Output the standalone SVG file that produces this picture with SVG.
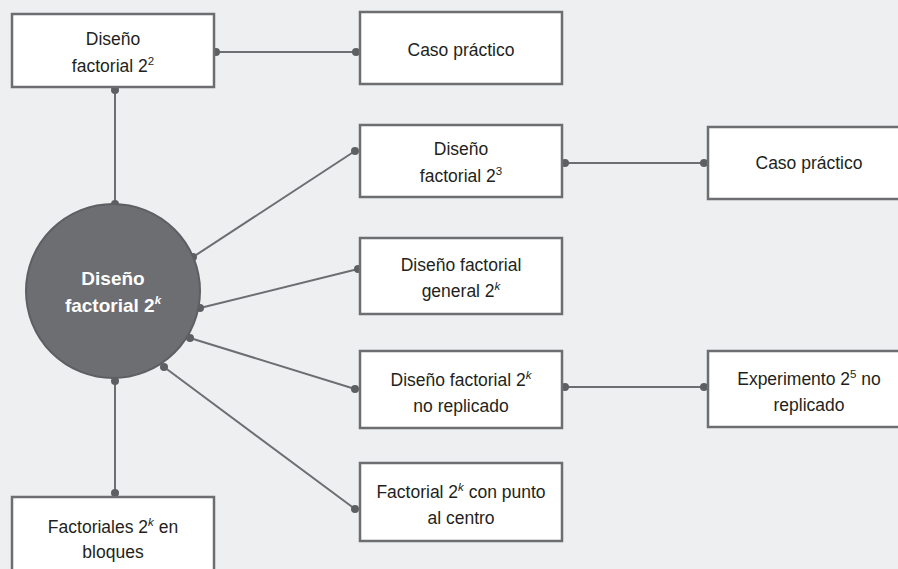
<svg xmlns="http://www.w3.org/2000/svg" width="898" height="569" viewBox="0 0 898 569">
<style>
.bg{fill:#eeeff1}
.box{fill:#ffffff;stroke:#6d6e71;stroke-width:2.5}
.hub{fill:#6d6e71;stroke:#5e5f62;stroke-width:2}
.ln{stroke:#6d6e71;stroke-width:2;fill:none}
.dot{fill:#5e5f62}
.t{font-family:"Liberation Sans",Arial,sans-serif;font-size:17.5px;fill:#231f20;text-anchor:middle}
.ht{font-family:"Liberation Sans",Arial,sans-serif;font-size:19px;font-weight:bold;fill:#ffffff;text-anchor:middle}
.sup{font-size:11.5px}
.k{font-style:italic}
</style>
<rect class="bg" x="0" y="0" width="898" height="569"/>
<g id="connectors">
<line class="ln" x1="216" y1="52" x2="356" y2="52"/>
<line class="ln" x1="115" y1="90" x2="115" y2="204"/>
<line class="ln" x1="193" y1="257" x2="355" y2="151"/>
<line class="ln" x1="200" y1="308" x2="358" y2="269"/>
<line class="ln" x1="190" y1="338" x2="355" y2="389"/>
<line class="ln" x1="164" y1="367" x2="355" y2="509"/>
<line class="ln" x1="115" y1="381" x2="115" y2="493"/>
<line class="ln" x1="565" y1="163" x2="704" y2="163"/>
<line class="ln" x1="565" y1="387" x2="704" y2="387"/>
<g>
<circle class="dot" cx="216" cy="52" r="4"/>
<circle class="dot" cx="356" cy="52" r="4"/>
<circle class="dot" cx="115" cy="90" r="4"/>
<circle class="dot" cx="115" cy="204" r="4"/>
<circle class="dot" cx="193" cy="257" r="4"/>
<circle class="dot" cx="355" cy="151" r="4"/>
<circle class="dot" cx="200" cy="308" r="4"/>
<circle class="dot" cx="358" cy="269" r="4"/>
<circle class="dot" cx="190" cy="338" r="4"/>
<circle class="dot" cx="355" cy="389" r="4"/>
<circle class="dot" cx="164" cy="367" r="4"/>
<circle class="dot" cx="355" cy="509" r="4"/>
<circle class="dot" cx="115" cy="381" r="4"/>
<circle class="dot" cx="115" cy="493" r="4"/>
<circle class="dot" cx="565" cy="163" r="4"/>
<circle class="dot" cx="704" cy="163" r="4"/>
<circle class="dot" cx="565" cy="387" r="4"/>
<circle class="dot" cx="704" cy="387" r="4"/>
</g>
</g>
<g id="hub">
<circle class="hub" cx="113" cy="291" r="87"/>
<text class="ht" x="113" y="285">Diseño</text>
<text class="ht" x="113" y="312">factorial 2<tspan class="k sup" dy="-8">k</tspan></text>
</g>
<g id="n22">
<rect class="box" x="12" y="14" width="202" height="73"/>
<text class="t" x="113" y="45">Diseño</text>
<text class="t" x="113" y="72">factorial 2<tspan class="sup" dy="-7">2</tspan></text>
</g>
<g id="caso1">
<rect class="box" x="360" y="12" width="202" height="72"/>
<text class="t" x="461" y="56">Caso práctico</text>
</g>
<g id="n23">
<rect class="box" x="360" y="125" width="202" height="72"/>
<text class="t" x="461" y="155">Diseño</text>
<text class="t" x="461" y="182">factorial 2<tspan class="sup" dy="-7">3</tspan></text>
</g>
<g id="caso2">
<rect class="box" x="708" y="127" width="202" height="72"/>
<text class="t" x="809" y="169">Caso práctico</text>
</g>
<g id="general">
<rect class="box" x="360" y="238" width="202" height="76"/>
<text class="t" x="461" y="271">Diseño factorial</text>
<text class="t" x="461" y="297">general 2<tspan class="k sup" dy="-7">k</tspan></text>
</g>
<g id="noreplicado">
<rect class="box" x="360" y="351" width="202" height="77"/>
<text class="t" x="461" y="386">Diseño factorial 2<tspan class="k sup" dy="-7">k</tspan></text>
<text class="t" x="461" y="412">no replicado</text>
</g>
<g id="experimento">
<rect class="box" x="708" y="351" width="202" height="76"/>
<text class="t" x="809" y="385">Experimento 2<tspan class="sup" dy="-7">5</tspan><tspan dy="7"> no</tspan></text>
<text class="t" x="809" y="411">replicado</text>
</g>
<g id="punto">
<rect class="box" x="360" y="463" width="202" height="78"/>
<text class="t" x="461" y="498">Factorial 2<tspan class="k sup" dy="-7">k</tspan><tspan dy="7"> con punto</tspan></text>
<text class="t" x="461" y="524">al centro</text>
</g>
<g id="bloques">
<rect class="box" x="12" y="497" width="202" height="90"/>
<text class="t" x="113" y="533">Factoriales 2<tspan class="k sup" dy="-7">k</tspan><tspan dy="7"> en</tspan></text>
<text class="t" x="113" y="558">bloques</text>
</g>
</svg>
